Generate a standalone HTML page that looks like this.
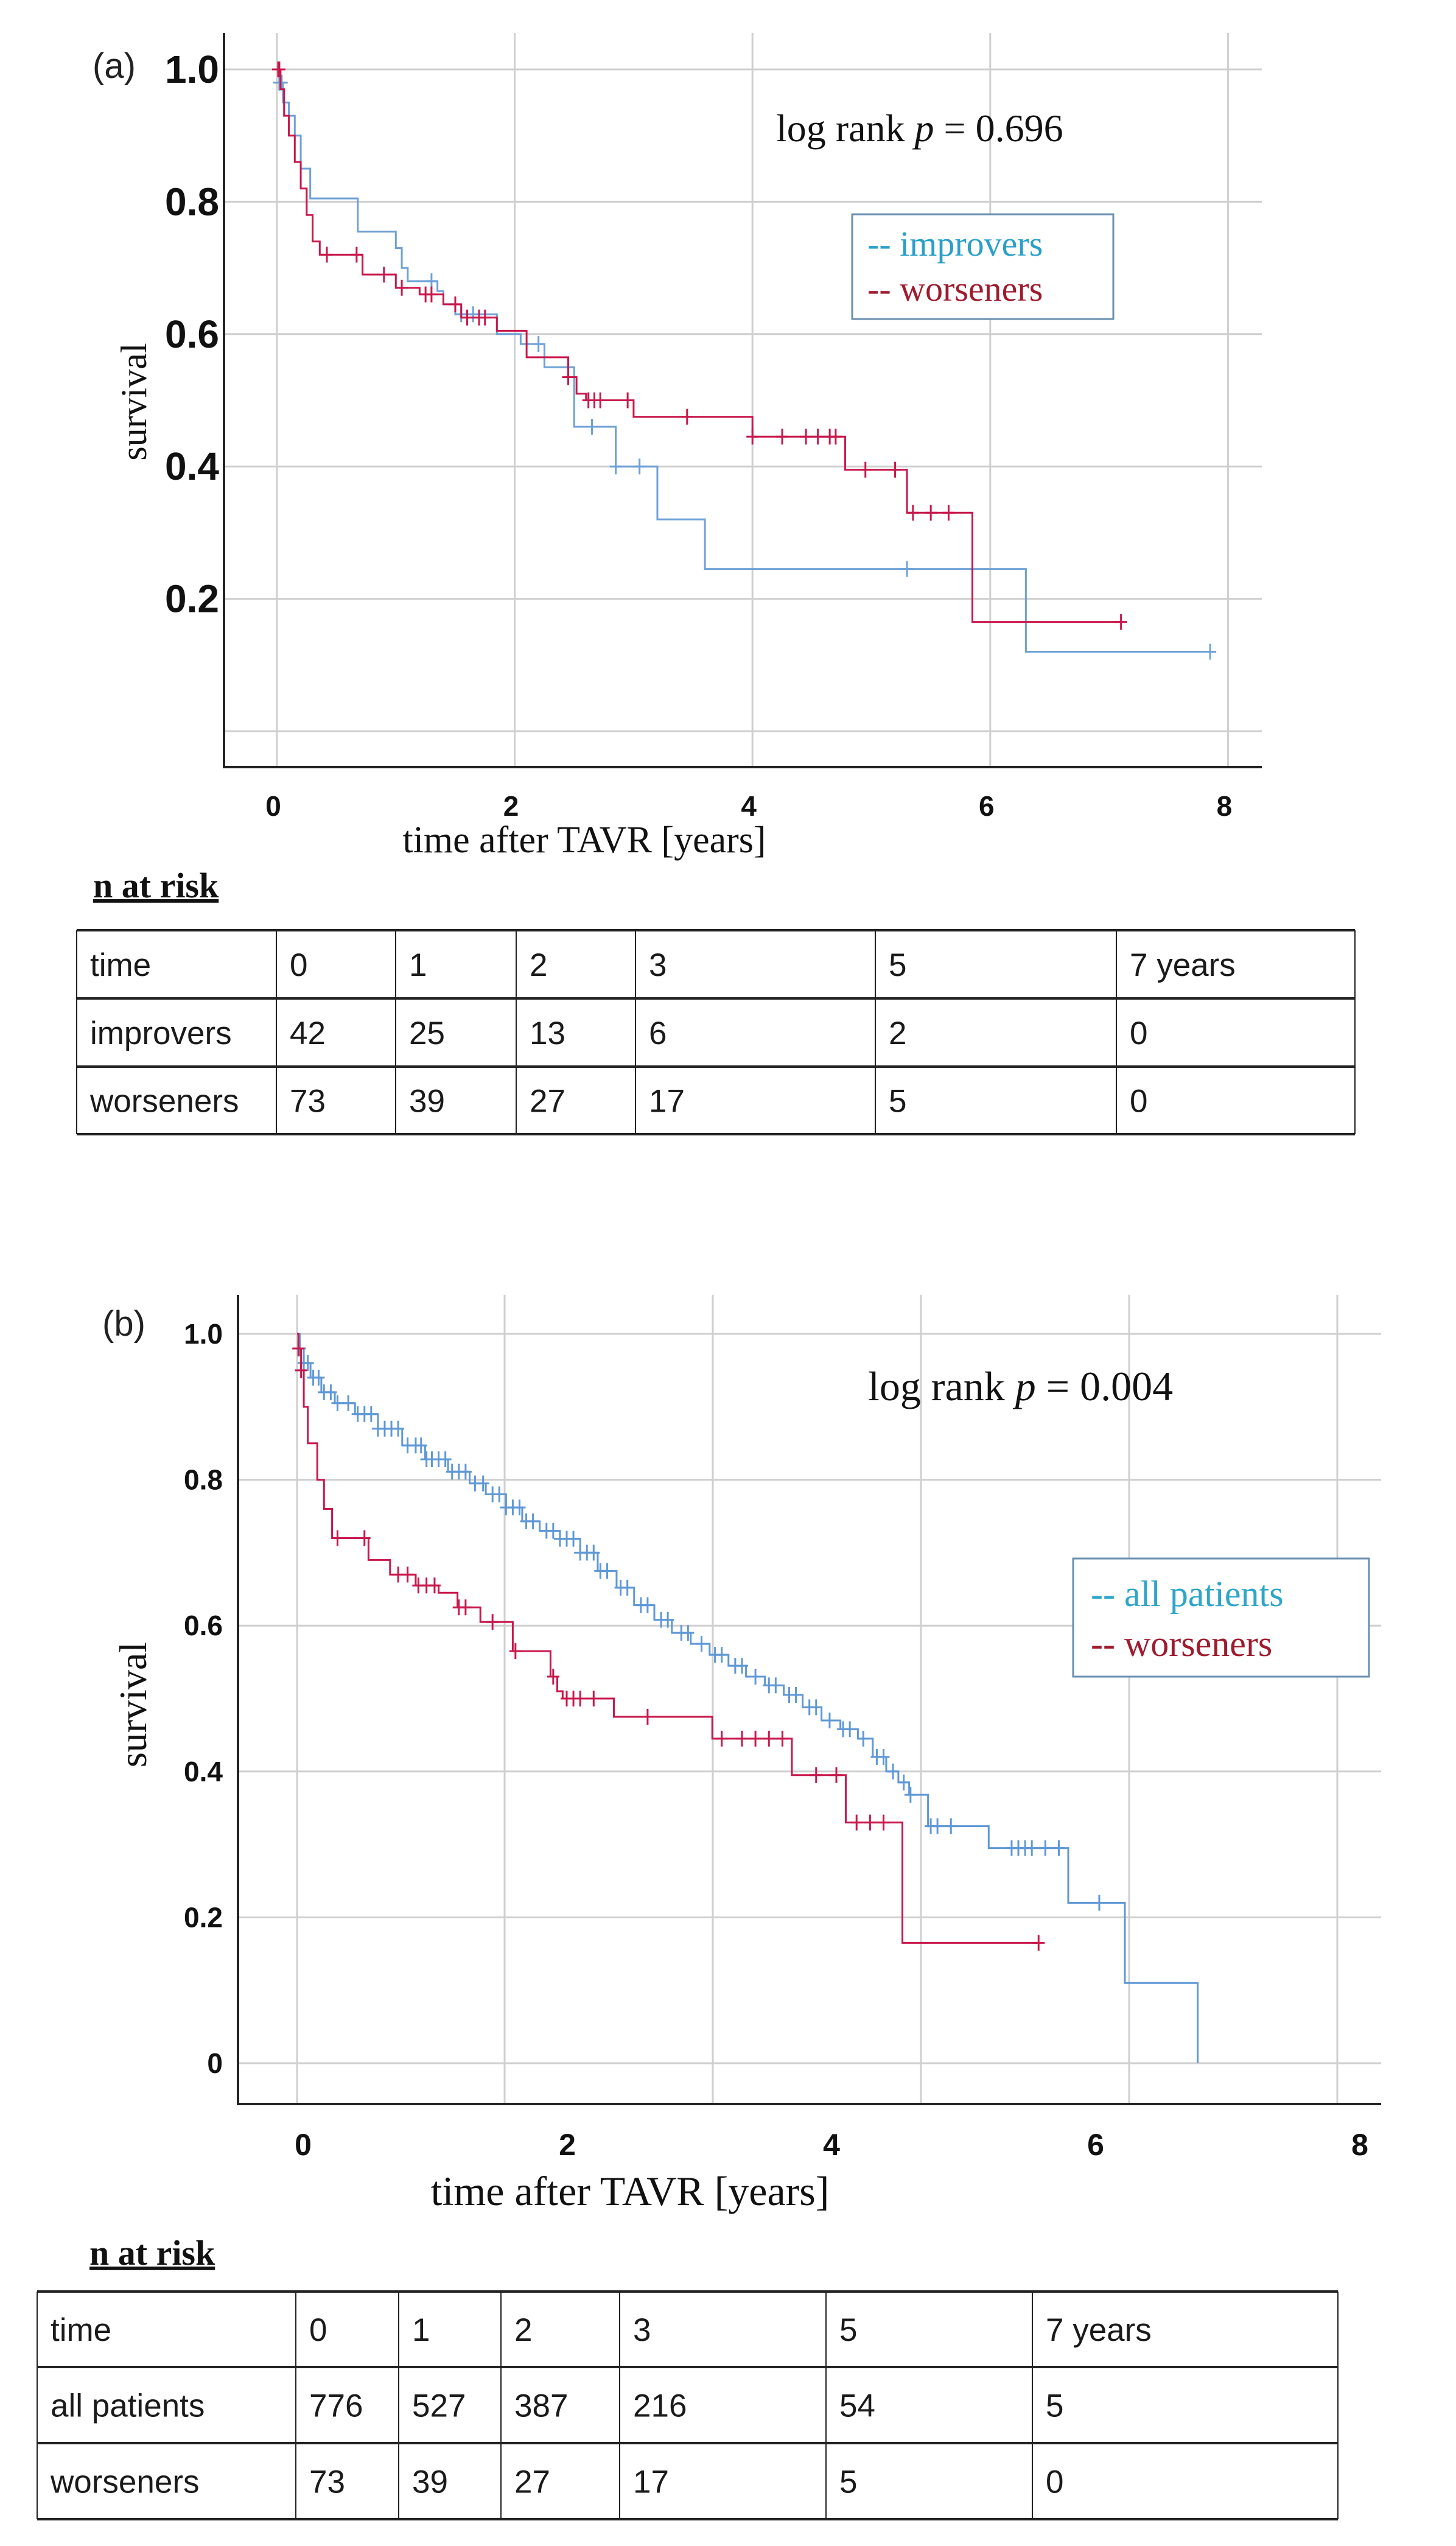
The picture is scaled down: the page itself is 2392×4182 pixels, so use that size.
<!DOCTYPE html>
<html><head><meta charset="utf-8"><style>
html,body{margin:0;padding:0;background:#fff}
svg{display:block}
.tk{font-family:"Liberation Sans",sans-serif;font-weight:bold;fill:#111}
.sr{font-family:"Liberation Serif",serif;fill:#111}
.tb{font-family:"Liberation Sans",sans-serif;fill:#1a1a1a;font-size:53px}
</style></head><body>
<svg id="fig" width="2392" height="4182" viewBox="0 0 2392 4182" xmlns="http://www.w3.org/2000/svg">
<g id="ga"></g>
<g id="gb"></g>
<g id="tables"></g>
</svg>
<script>
// ---------- chart (a) data ----------
const aYTicks = [1.0, 0.8, 0.6, 0.4, 0.2];
const aYTickLabels = ["1.0", "0.8", "0.6", "0.4", "0.2"];
const aXTicks = [0, 2, 4, 6, 8];
const aImpT = [0, 0.02, 0.05, 0.1, 0.15, 0.2, 0.28, 0.68, 1.0, 1.05, 1.1, 1.35, 1.4, 1.5, 1.85, 2.05, 2.25, 2.5, 2.85, 3.2, 3.6, 6.3];
const aImpS = [1.0, 0.98, 0.95, 0.93, 0.9, 0.85, 0.805, 0.755, 0.73, 0.70, 0.68, 0.665, 0.645, 0.63, 0.60, 0.585, 0.55, 0.46, 0.40, 0.32, 0.245, 0.12];
const aImpEnd = 7.85;
const aImpCens = [0.02, 0.04, 1.3, 1.55, 1.65, 2.2, 2.65, 2.85, 3.05, 5.3, 7.85];
const aWorT = [0, 0.03, 0.06, 0.1, 0.15, 0.2, 0.25, 0.3, 0.36, 0.72, 1.0, 1.2, 1.4, 1.55, 1.85, 2.1, 2.45, 2.52, 2.6, 3.0, 4.0, 4.78, 5.3, 5.85];
const aWorS = [1.0, 0.97, 0.93, 0.9, 0.86, 0.82, 0.78, 0.74, 0.72, 0.69, 0.67, 0.66, 0.645, 0.625, 0.605, 0.565, 0.535, 0.51, 0.50, 0.475, 0.445, 0.395, 0.33, 0.165];
const aWorEnd = 7.1;
const aWorCens = [0.01, 0.02, 0.42, 0.67, 0.9, 1.05, 1.25, 1.3, 1.5, 1.6, 1.7, 1.75, 2.45, 2.62, 2.67, 2.72, 2.95, 3.45, 4.0, 4.25, 4.45, 4.55, 4.65, 4.7, 4.95, 5.2, 5.35, 5.5, 5.65, 7.1];
// ---------- chart (b) data ----------
const bYTicks = [1.0, 0.8, 0.6, 0.4, 0.2, 0];
const bYTickLabels = ["1.0", "0.8", "0.6", "0.4", "0.2", "0"];
const bXTicks = [0, 2, 4, 6, 8];
const bAllT = [0, 0.02, 0.05, 0.1, 0.18, 0.28, 0.43, 0.6, 0.78, 0.95, 1.12, 1.28, 1.4, 1.55, 1.67, 1.8, 1.95, 2.1, 2.23, 2.37, 2.5, 2.65, 2.78, 2.92, 3.06, 3.2, 3.33, 3.47, 3.61, 3.75, 3.89, 4.03, 4.16, 4.27, 4.37, 4.46, 4.54, 4.68, 5.13, 5.72, 6.14, 6.68];
const bAllS = [1.0, 0.98, 0.96, 0.94, 0.92, 0.905, 0.89, 0.87, 0.847, 0.828, 0.811, 0.795, 0.78, 0.762, 0.743, 0.73, 0.719, 0.70, 0.675, 0.652, 0.628, 0.608, 0.59, 0.575, 0.56, 0.545, 0.53, 0.518, 0.505, 0.488, 0.47, 0.458, 0.445, 0.42, 0.40, 0.385, 0.368, 0.325, 0.295, 0.22, 0.11, 0];
const bAllEnd = 6.68;
const bAllCens = [0.02, 0.05, 0.08, 0.12, 0.16, 0.2, 0.25, 0.3, 0.38, 0.45, 0.5, 0.55, 0.6, 0.65, 0.7, 0.75, 0.82, 0.88, 0.92, 0.96, 1.0, 1.05, 1.1, 1.15, 1.2, 1.25, 1.32, 1.38, 1.45, 1.5, 1.55, 1.6, 1.65, 1.7, 1.75, 1.85, 1.9, 1.95, 2.0, 2.05, 2.1, 2.15, 2.2, 2.25, 2.3, 2.4, 2.45, 2.55, 2.6, 2.7, 2.75, 2.85, 2.9, 3.0, 3.1, 3.15, 3.25, 3.3, 3.4, 3.5, 3.55, 3.65, 3.7, 3.8, 3.85, 3.95, 4.05, 4.1, 4.2, 4.3, 4.35, 4.42, 4.5, 4.55, 4.7, 4.75, 4.85, 5.3, 5.35, 5.4, 5.45, 5.55, 5.65, 5.95];
const bWorT = [0, 0.01, 0.03, 0.05, 0.08, 0.15, 0.2, 0.26, 0.53, 0.69, 0.88, 1.05, 1.19, 1.36, 1.6, 1.88, 1.93, 1.97, 2.35, 3.08, 3.67, 4.07, 4.49];
const bWorS = [1.0, 0.98, 0.95, 0.9, 0.85, 0.8, 0.76, 0.72, 0.69, 0.67, 0.655, 0.645, 0.625, 0.605, 0.565, 0.53, 0.51, 0.50, 0.475, 0.445, 0.395, 0.33, 0.165];
const bWorEnd = 5.5;
const bWorCens = [0.01, 0.03, 0.3, 0.5, 0.75, 0.82, 0.9, 0.96, 1.02, 1.2, 1.25, 1.45, 1.62, 1.9, 2.0, 2.05, 2.1, 2.2, 2.6, 3.15, 3.3, 3.4, 3.5, 3.6, 3.85, 4.0, 4.15, 4.25, 4.35, 5.5];
// ---------- risk tables ----------
const tHeader = ["time", "0", "1", "2", "3", "5", "7 years"];
const tImprovers = ["improvers", "42", "25", "13", "6", "2", "0"];
const tWorsenersA = ["worseners", "73", "39", "27", "17", "5", "0"];
const tAll = ["all patients", "776", "527", "387", "216", "54", "5"];
const tWorsenersB = ["worseners", "73", "39", "27", "17", "5", "0"];

const NS = "http://www.w3.org/2000/svg";
function mk(parent, tag, attrs, text) {
  const e = document.createElementNS(NS, tag);
  for (const k in attrs) e.setAttribute(k, attrs[k]);
  if (text !== undefined) e.textContent = text;
  parent.appendChild(e);
  return e;
}
function stepPath(T, S, end, X, Y) {
  let d = "M" + X(T[0]) + " " + Y(S[0]);
  for (let i = 1; i < T.length; i++) d += " H" + X(T[i]) + " V" + Y(S[i]);
  d += " H" + X(end);
  return d;
}
function valAt(T, S, t) {
  let v = S[0];
  for (let i = 0; i < T.length; i++) if (T[i] <= t) v = S[i];
  return v;
}
function drawCurve(g, T, S, end, cens, X, Y, color, name) {
  const p = mk(g, "path", {d: stepPath(T, S, end, X, Y), fill: "none", stroke: color, "stroke-width": 3});
  
  
  cens.forEach(function (t) {
    const x = X(t), y = Y(valAt(T, S, t));
    const c = mk(g, "path", {d: "M" + x + " " + (y - 13) + " V" + (y + 13) + " M" + (x - 10) + " " + y + " H" + (x + 10), stroke: color, "stroke-width": 3, fill: "none"});
    
    
  });
}

// ===== chart (a) =====
(function () {
  const g = document.getElementById("ga");
  const X = t => 455 + 195.3 * t;
  const Y = s => 1201 - 1087 * s;
  const vGrid = [0, 2, 4, 6, 8];
  vGrid.forEach(t => {
    const l = mk(g, "line", {x1: X(t), x2: X(t), y1: 54, y2: 1260, stroke: "#cfcfcf", "stroke-width": 3});
    
    
  });
  [1.0, 0.8, 0.6, 0.4, 0.2, 0].forEach(s => {
    const l = mk(g, "line", {x1: 368, x2: 2073, y1: Y(s), y2: Y(s), stroke: "#cfcfcf", "stroke-width": 3});
    
    
  });
  const ax = mk(g, "path", {d: "M368 54 V1260 H2073", fill: "none", stroke: "#222", "stroke-width": 4});
  
  
  aYTicks.forEach((s, i) => {
    const tx = mk(g, "text", {x: 360, y: Y(s) + 22, "text-anchor": "end", "font-size": 64, class: "tk"}, aYTickLabels[i]);
    
    
  });
  aXTicks.forEach(t => {
    const tx = mk(g, "text", {x: X(t) - 6, y: 1340, "text-anchor": "middle", "font-size": 46, class: "tk"}, String(t));
    
    
  });
  drawCurve(g, aImpT, aImpS, aImpEnd, aImpCens, X, Y, "#6ea1d6", "improvers");
  drawCurve(g, aWorT, aWorS, aWorEnd, aWorCens, X, Y, "#c8184c", "worseners");
  let e;
  e = mk(g, "text", {x: 152, y: 128, "font-size": 58, "font-family": "Liberation Sans, sans-serif", fill: "#222"}, "(a)");
  
  
  e = mk(g, "text", {x: 960, y: 1400, "text-anchor": "middle", "font-size": 62, class: "sr"}, "time after TAVR [years]");
  
  
  e = mk(g, "text", {x: 0, y: 0, "text-anchor": "middle", "font-size": 60, class: "sr", transform: "translate(240 660) rotate(-90)"}, "survival");
  
  
  e = mk(g, "text", {x: 1275, y: 232, "font-size": 64, class: "sr"});
  e.innerHTML = 'log rank <tspan font-style="italic">p</tspan> = 0.696';
  
  
  const lg = mk(g, "g", {});
  
  
  mk(lg, "rect", {x: 1400, y: 352, width: 429, height: 172, fill: "#fff", stroke: "#6a8fb0", "stroke-width": 3});
  e = mk(lg, "text", {x: 1425, y: 420, "font-size": 58, class: "sr", style: "fill:#2a9fc9"}, "-- improvers");
  
  
  e = mk(lg, "text", {x: 1425, y: 494, "font-size": 58, class: "sr", style: "fill:#9e1b2e"}, "-- worseners");
  
  
})();

// ===== chart (b) =====
(function () {
  const g = document.getElementById("gb");
  const X = t => 488 + 221.5 * t;
  const Y = s => 3389 - 1198 * s;
  const LX = t => 498 + 217 * t;
  const vGridPx = [488, 829, 1171, 1513, 1855, 2197];
  vGridPx.forEach(x => {
    const l = mk(g, "line", {x1: x, x2: x, y1: 2127, y2: 3456, stroke: "#cfcfcf", "stroke-width": 3});
    
    
  });
  bYTicks.forEach(s => {
    const l = mk(g, "line", {x1: 391, x2: 2269, y1: Y(s), y2: Y(s), stroke: "#cfcfcf", "stroke-width": 3});
    
    
  });
  const ax = mk(g, "path", {d: "M391 2127 V3456 H2269", fill: "none", stroke: "#222", "stroke-width": 4});
  
  
  bYTicks.forEach((s, i) => {
    const tx = mk(g, "text", {x: 366, y: Y(s) + 16, "text-anchor": "end", "font-size": 46, class: "tk"}, bYTickLabels[i]);
    
    
  });
  bXTicks.forEach(t => {
    const tx = mk(g, "text", {x: LX(t), y: 3540, "text-anchor": "middle", "font-size": 50, class: "tk"}, String(t));
    
    
  });
  drawCurve(g, bAllT, bAllS, bAllEnd, bAllCens, X, Y, "#5f98d6", "all-patients");
  drawCurve(g, bWorT, bWorS, bWorEnd, bWorCens, X, Y, "#c8184c", "worseners");
  let e;
  e = mk(g, "text", {x: 168, y: 2194, "font-size": 58, "font-family": "Liberation Sans, sans-serif", fill: "#222"}, "(b)");
  
  
  e = mk(g, "text", {x: 1035, y: 3622, "text-anchor": "middle", "font-size": 68, class: "sr"}, "time after TAVR [years]");
  
  
  e = mk(g, "text", {x: 0, y: 0, "text-anchor": "middle", "font-size": 64, class: "sr", transform: "translate(240 2800) rotate(-90)"}, "survival");
  
  
  e = mk(g, "text", {x: 1426, y: 2300, "font-size": 68, class: "sr"});
  e.innerHTML = 'log rank <tspan font-style="italic">p</tspan> = 0.004';
  
  
  const lg = mk(g, "g", {});
  
  
  mk(lg, "rect", {x: 1763, y: 2560, width: 486, height: 194, fill: "#fff", stroke: "#6a8fb0", "stroke-width": 3});
  e = mk(lg, "text", {x: 1792, y: 2638, "font-size": 60, class: "sr", style: "fill:#2fa6c9"}, "-- all patients");
  
  
  e = mk(lg, "text", {x: 1792, y: 2720, "font-size": 60, class: "sr", style: "fill:#9e1b2e"}, "-- worseners");
  
  
})();

// ===== tables =====
(function () {
  const g = document.getElementById("tables");
  function table(name, cols, rows, data, titleX, titleY) {
    const tg = mk(g, "g", {});
    
    
    const t = mk(tg, "text", {x: titleX, y: titleY, "font-size": 58, "font-weight": "bold", class: "sr", "text-decoration": "underline"}, "n at risk");
    
    
    rows.forEach(y => mk(tg, "line", {x1: cols[0], x2: cols[cols.length - 1], y1: y, y2: y, stroke: "#222", "stroke-width": 4}));
    cols.forEach(x => mk(tg, "line", {x1: x, x2: x, y1: rows[0], y2: rows[rows.length - 1], stroke: "#222", "stroke-width": 2}));
    data.forEach((row, r) => {
      row.forEach((v, c) => {
        const cell = mk(tg, "text", {x: cols[c] + 22, y: (rows[r] + rows[r + 1]) / 2 + 19, class: "tb"}, v);
        
        
      });
    });
  }
  table("risk-table-a", [126, 454, 650, 848, 1044, 1438, 1834, 2226], [1528, 1640, 1752, 1863],
    [tHeader, tImprovers, tWorsenersA], 153, 1474);
  table("risk-table-b", [61, 486, 655, 823, 1018, 1357, 1696, 2198], [3764, 3888, 4013, 4138],
    [tHeader, tAll, tWorsenersB], 147, 3720);
})();
</script>
</body></html>
